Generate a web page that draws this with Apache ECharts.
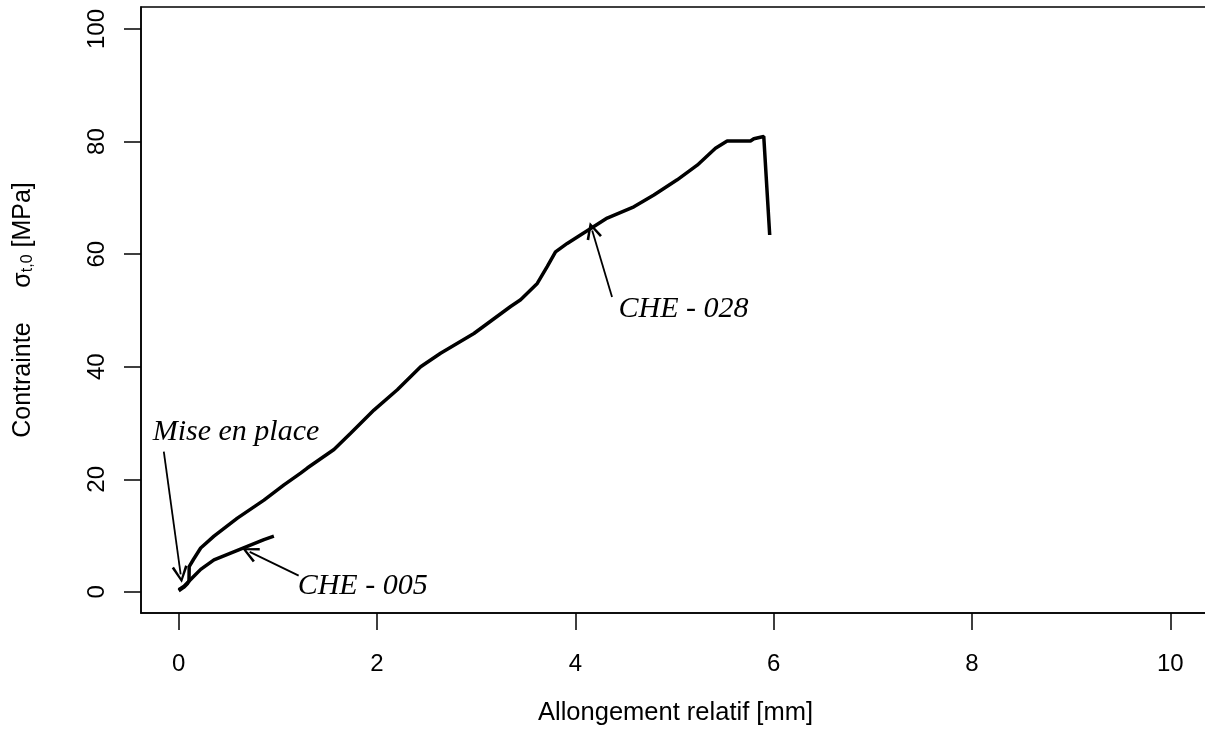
<!DOCTYPE html>
<html>
<head>
<meta charset="utf-8">
<script src="https://cdn.jsdelivr.net/npm/echarts@6/dist/echarts.min.js"></script>
<style>
html, body { margin: 0; padding: 0; background: #fff; }
#main { width: 1205px; height: 745px; }
</style>
</head>
<body>
<div id="main"></div>
<script>
var chart = echarts.init(document.getElementById('main'));

// x ticks / y ticks
var xTicks = [0, 2, 4, 6, 8, 10];
var yTicks = [0, 20, 40, 60, 80, 100];

// CHE - 028 : [allongement, contrainte]
var che028 = [
  [0, 0.2], [0.05, 0.8], [0.09, 1.5], [0.104, 1.9], [0.106, 4.5], [0.15, 5.8],
  [0.222, 7.8], [0.356, 9.9], [0.592, 13.1], [0.86, 16.3], [1.062, 19.0],
  [1.23, 21.1], [1.297, 22.0], [1.566, 25.3], [1.734, 28.2], [1.969, 32.3],
  [2.205, 35.9], [2.44, 40.0], [2.641, 42.4], [2.977, 45.9], [3.347, 50.7],
  [3.448, 51.9], [3.616, 54.8], [3.716, 57.8], [3.80, 60.4], [3.918, 61.9],
  [4.052, 63.4], [4.187, 64.9], [4.321, 66.4], [4.59, 68.4], [4.792, 70.5],
  [5.027, 73.2], [5.229, 75.8], [5.413, 78.8], [5.531, 80.1], [5.766, 80.1],
  [5.80, 80.5], [5.90, 80.9], [5.96, 63.4]
];

// CHE - 005
var che005 = [
  [0, 0.4], [0.054, 1.0], [0.138, 2.5], [0.222, 4.0], [0.356, 5.7],
  [0.524, 6.9], [0.692, 8.1], [0.86, 9.3], [0.96, 9.9]
];

// annotations: [x, y, text]
var notes = [
  [-0.262, 28.3, 'Mise en place'],
  [1.20, 1.1, 'CHE - 005'],
  [4.435, 50.3, 'CHE - 028']
];
// arrows: [x0, y0, x1, y1]
var arrows = [
  [-0.15, 24.9, 0.02, 3.1],
  [1.21, 2.9, 0.716, 7.1],
  [4.37, 52.4, 4.17, 64.2]
];

var axisFont = 'Liberation Sans, Arial, sans-serif';
var noteFont = 'Liberation Serif, Times New Roman, serif';

var option = {
  animation: false,
  backgroundColor: '#fff',
  grid: {
    left: 141, top: 7, right: -5, bottom: 132,
    show: true, borderColor: '#000', borderWidth: 1.5,
    outerBoundsMode: 'none'
  },
  xAxis: {
    type: 'value',
    min: -0.38, max: 10.4,
    name: 'Allongement relatif [mm]',
    nameLocation: 'middle',
    nameGap: 87,
    nameTextStyle: { fontSize: 25.5, color: '#000', fontFamily: axisFont },
    axisLine: { show: true, onZero: false, lineStyle: { color: '#000', width: 1.5 } },
    axisTick: { show: true, length: 17, customValues: xTicks, lineStyle: { color: '#000', width: 1.5 } },
    axisLabel: { customValues: xTicks, fontSize: 24, color: '#000', fontFamily: axisFont, margin: 39 },
    splitLine: { show: false }
  },
  yAxis: {
    type: 'value',
    min: -3.75, max: 103.9,
    name: 'Contrainte     σ{sub|t,0} [MPa]',
    nameLocation: 'middle',
    nameGap: 105,
    nameTextStyle: {
      fontSize: 25, color: '#000', fontFamily: axisFont,
      rich: { sub: { fontSize: 16, color: '#000', fontFamily: axisFont, padding: [10, 0, 0, 0] } }
    },
    axisLine: { show: true, onZero: false, lineStyle: { color: '#000', width: 1.5 } },
    axisTick: { show: true, length: 17, customValues: yTicks, lineStyle: { color: '#000', width: 1.5 } },
    axisLabel: { customValues: yTicks, rotate: 90, fontSize: 24, color: '#000', fontFamily: axisFont, margin: 32 },
    splitLine: { show: false }
  },
  series: [
    {
      name: 'CHE - 028',
      type: 'line',
      data: che028,
      showSymbol: false,
      lineStyle: { color: '#000', width: 3.5 },
      markPoint: {
        symbol: 'circle', symbolSize: 0, silent: true,
        label: {
          show: true, position: 'right', distance: 0,
          color: '#000', fontSize: 30, fontStyle: 'italic', fontFamily: noteFont,
          formatter: function (p) { return p.name; }
        },
        data: notes.map(function (n) { return { name: n[2], coord: [n[0], n[1]] }; })
      }
    },
    {
      name: 'CHE - 005',
      type: 'line',
      data: che005,
      showSymbol: false,
      lineStyle: { color: '#000', width: 3.5 },
      markLine: {
        silent: true,
        symbol: ['none', 'path://M0,0 L6,13 L4.2,14 L0,4 L-4.2,14 L-6,13 Z'],
        symbolSize: [16, 17],
        label: { show: false },
        lineStyle: { color: '#000', width: 1.8, type: 'solid' },
        data: arrows.map(function (a) { return [{ coord: [a[0], a[1]] }, { coord: [a[2], a[3]] }]; })
      }
    }
  ]
};

chart.setOption(option);
</script>
</body>
</html>
